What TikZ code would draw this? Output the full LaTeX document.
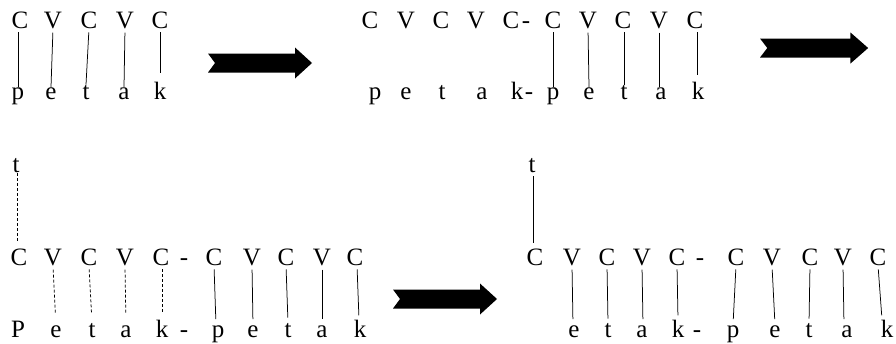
\documentclass[tikz,border=0pt]{standalone}
\usepackage{fontspec}
\setmainfont{Liberation Serif}
\begin{document}
\begin{tikzpicture}[x=1pt,y=-1pt,
  lt/.style={font=\fontsize{25}{29}\selectfont, inner sep=0pt, anchor=base},
  link/.style={line width=0.75pt, shorten <=4pt},
  dlink/.style={link, dash pattern=on 3pt off 2pt},
  fatarrow/.pic={\fill[black] (0,-9.5) -- (87,-9.5) -- (87,-15.5) -- (104,0) -- (87,15.5) -- (87,9.5) -- (0,9.5) -- (7,0) -- cycle;}
]
\useasboundingbox[fill=white] (0,0) rectangle (896,343);

% ---------- group 1 ----------
\node[lt] (a1) at (20,28) {C};
\node[lt] (a2) at (53,28) {V};
\node[lt] (a3) at (89,28) {C};
\node[lt] (a4) at (125,28) {V};
\node[lt] (a5) at (160,28) {C};
\node[lt] (b1) at (18,99) {p};
\node[lt] (b2) at (51,99) {e};
\node[lt] (b3) at (86,99) {t};
\node[lt] (b4) at (124,99) {a};
\node[lt] (b5) at (160,99) {k};
\draw[link] ([xshift=-2pt]a1.south) -- (b1.north);
\draw[link] (a2.south) -- (b2.north);
\draw[link] (a3.south) -- (b3.north);
\draw[link] (a4.south) -- (b4.north);
\draw[link, shorten >=8pt] (a5.south) -- (b5.north);

\pic at (208,63) {fatarrow};

% ---------- group 2 ----------
\node[lt] (c1) at (370,28) {C};
\node[lt] (c2) at (406,28) {V};
\node[lt] (c3) at (441,28) {C};
\node[lt] (c4) at (476,28) {V};
\node[lt] (c5) at (511,28) {C};
\node[lt] (ch) at (526,28) {-};
\node[lt] (c6) at (553,28) {C};
\node[lt] (c7) at (588,28) {V};
\node[lt] (c8) at (623,28) {C};
\node[lt] (c9) at (659,28) {V};
\node[lt] (c10) at (695,28) {C};
\node[lt] (d1) at (375,99) {p};
\node[lt] (d2) at (406,99) {e};
\node[lt] (d3) at (442,99) {t};
\node[lt] (d4) at (482,99) {a};
\node[lt] (d5) at (517,99) {k};
\node[lt] (dh) at (529,99) {-};
\node[lt] (d6) at (553,99) {p};
\node[lt] (d7) at (589,99) {e};
\node[lt] (d8) at (624,99) {t};
\node[lt] (d9) at (661,99) {a};
\node[lt] (d10) at (698,99) {k};
\draw[link] (c6.south) -- (d6.north);
\draw[link] (c7.south) -- (d7.north);
\draw[link] ([xshift=1pt]c8.south) -- (d8.north);
\draw[link] (c9.south) -- ([xshift=-2pt]d9.north);
\draw[link, shorten >=6pt] ([xshift=2pt]c10.south) -- ([xshift=-1pt]d10.north);

\pic[xscale=1.04] at (760,48) {fatarrow};

% ---------- group 3 ----------
\node[lt] (e0) at (16,172) {t};
\node[lt] (e1) at (19,265) {C};
\node[lt] (e2) at (53,265) {V};
\node[lt] (e3) at (89,265) {C};
\node[lt] (e4) at (125,265) {V};
\node[lt] (e5) at (161,265) {C};
\node[lt] (eh) at (184,265) {-};
\node[lt] (e6) at (214,265) {C};
\node[lt] (e7) at (252,265) {V};
\node[lt] (e8) at (286,265) {C};
\node[lt] (e9) at (322,265) {V};
\node[lt] (e10) at (355,265) {C};
\node[lt] (f1) at (18,337) {P};
\node[lt] (f2) at (56,337) {e};
\node[lt] (f3) at (92,337) {t};
\node[lt] (f4) at (126,337) {a};
\node[lt] (f5) at (162,337) {k};
\node[lt] (fh) at (184,337) {-};
\node[lt] (f6) at (218,337) {p};
\node[lt] (f7) at (253,337) {e};
\node[lt] (f8) at (288,337) {t};
\node[lt] (f9) at (322,337) {a};
\node[lt] (f10) at (360,337) {k};
\draw[dlink, shorten <=1pt, shorten >=5pt] ([xshift=1pt]e0.south) -- ([xshift=-2pt]e1.north);
\draw[dlink, shorten >=11pt] (e2.south) -- (f2.north);
\draw[dlink, shorten >=10pt] (e3.south) -- (f3.north);
\draw[dlink, shorten >=11pt] (e4.south) -- (f4.north);
\draw[dlink, shorten >=6pt] ([xshift=1pt]e5.south) -- (f5.north);
\draw[link, shorten >=6pt] (e6.south) -- ([xshift=-2pt]f6.north);
\draw[link, shorten >=6pt] (e7.south) -- (f7.north);
\draw[link, shorten >=5pt] (e8.south) -- (f8.north);
\draw[link, shorten >=6pt] (e9.south) -- (f9.north);
\draw[link, shorten >=4pt] ([xshift=2pt]e10.south) -- ([xshift=-1pt]f10.north);

\pic at (393,299) {fatarrow};

% ---------- group 4 ----------
\node[lt] (g0) at (532,172) {t};
\node[lt] (g1) at (535,265) {C};
\node[lt] (g2) at (572,265) {V};
\node[lt] (g3) at (607,265) {C};
\node[lt] (g4) at (642,265) {V};
\node[lt] (g5) at (677,265) {C};
\node[lt] (gh) at (700,265) {-};
\node[lt] (g6) at (736,265) {C};
\node[lt] (g7) at (772,265) {V};
\node[lt] (g8) at (810,265) {C};
\node[lt] (g9) at (843,265) {V};
\node[lt] (g10) at (878,265) {C};
\node[lt] (h2) at (574,337) {e};
\node[lt] (h3) at (608,337) {t};
\node[lt] (h4) at (642,337) {a};
\node[lt] (h5) at (678,337) {k};
\node[lt] (hh) at (697,337) {-};
\node[lt] (h6) at (733,337) {p};
\node[lt] (h7) at (775,337) {e};
\node[lt] (h8) at (809,337) {t};
\node[lt] (h9) at (847,337) {a};
\node[lt] (h10) at (887,337) {k};
\draw[link, shorten >=5pt] ([xshift=1pt]g0.south) -- ([xshift=-2pt]g1.north);
\draw[link, shorten >=6pt] (g2.south) -- ([xshift=-1pt]h2.north);
\draw[link, shorten >=4pt] (g3.south) -- (h3.north);
\draw[link, shorten >=6pt] (g4.south) -- ([xshift=1pt]h4.north);
\draw[link, shorten >=4pt] (g5.south) -- (h5.north);
\draw[link, shorten >=6pt] (g6.south) -- (h6.north);
\draw[link, shorten >=6pt] (g7.south) -- (h7.north);
\draw[link, shorten >=4pt] (g8.south) -- (h8.north);
\draw[link, shorten >=6pt] (g9.south) -- ([xshift=-3pt]h9.north);
\draw[link, shorten >=4pt] (g10.south) -- ([xshift=-5pt]h10.north);
\end{tikzpicture}
\end{document}
